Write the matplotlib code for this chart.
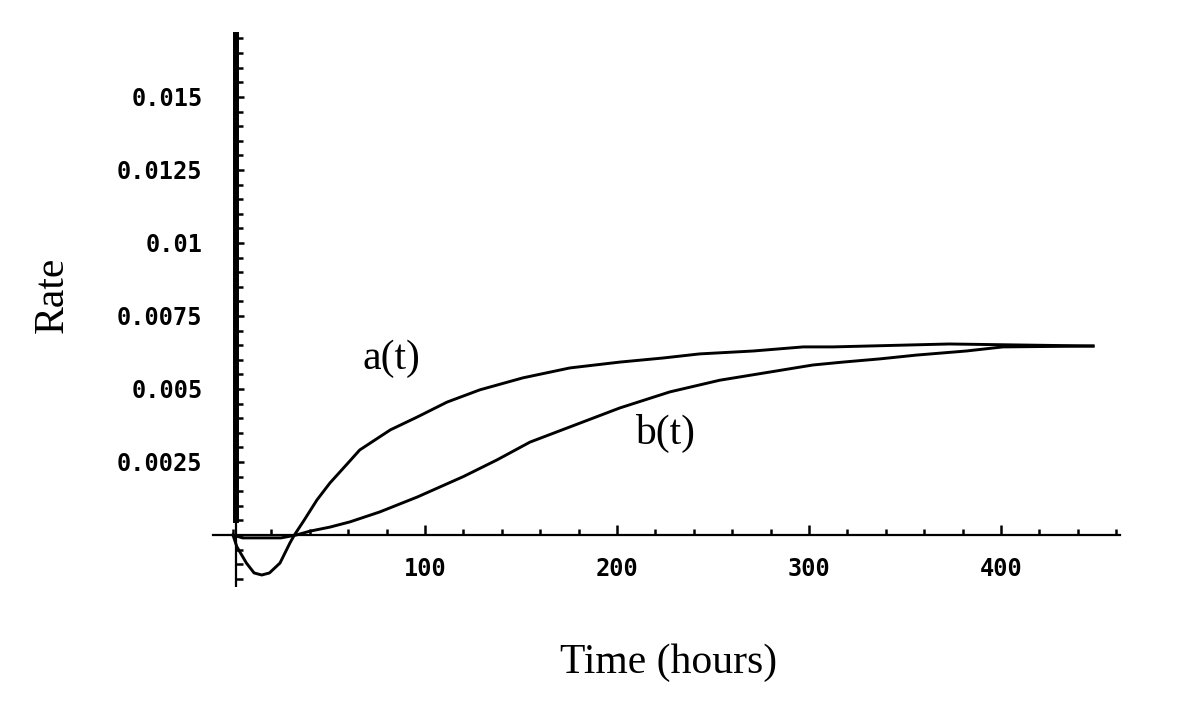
import matplotlib
matplotlib.use("Agg")
import matplotlib.pyplot as plt
from matplotlib.ticker import MultipleLocator, FixedLocator

# curve a(t)
a_t = [0, 2, 7, 11, 15, 19, 24.5, 29.7, 32, 37, 43.75, 50.5, 60, 66, 82, 96,
       111.5, 128.6, 151, 175.5, 201.5, 224, 243, 271, 297, 312.5, 373, 448]
a_val = [0, -0.0004, -0.00096, -0.0013, -0.00137, -0.0013, -0.00096, -0.00027,
         0, 0.0005, 0.0012, 0.00178, 0.00247, 0.00291, 0.0036, 0.00404,
         0.00455, 0.00497, 0.00538, 0.00572, 0.00592, 0.00606, 0.0062, 0.0063,
         0.00644, 0.00644, 0.00654, 0.00647]

# curve b(t)
b_t = [0, 5, 25, 33, 40, 50.5, 61, 76.5, 96, 120, 137.5, 154.7, 175.5, 201.5,
       227.6, 253.6, 279.7, 302, 317.7, 337, 356, 382, 401, 448]
b_val = [0, -0.0001, -0.0001, 0.0, 0.00013, 0.00027, 0.00045, 0.00079, 0.0013,
         0.002, 0.00257, 0.00318, 0.0037, 0.00435, 0.0049, 0.0053, 0.00558,
         0.00582, 0.00592, 0.00603, 0.00616, 0.0063, 0.00644, 0.00647]

x_ticks = [100, 200, 300, 400]
y_ticks = [0.0025, 0.005, 0.0075, 0.01, 0.0125, 0.015]
y_labels = ["0.0025", "0.005", "0.0075", "0.01", "0.0125", "0.015"]

fig = plt.figure(figsize=(12, 7.26), dpi=100)
ax = fig.add_axes([0.1775, 0.1915, 0.7558, 0.7603])

ax.plot(a_t, a_val, color="black", lw=2.1)
ax.plot(b_t, b_val, color="black", lw=2.1)

ax.set_xlim(-10.4, 462)
ax.set_ylim(-0.00178, 0.01712)

# mathematica style axes crossing at the origin
for side in ["top", "right"]:
    ax.spines[side].set_visible(False)
ax.spines["left"].set_position(("data", 1.5))
ax.spines["bottom"].set_position(("data", 0))
ax.spines["left"].set_linewidth(4.3)
ax.spines["left"].set_bounds(0.0005, 0.01712)
ax.spines["bottom"].set_linewidth(1.6)
ax.axvline(1.5, ymin=0, ymax=0.12, color="black", lw=1.6)

ax.xaxis.set_major_locator(FixedLocator(x_ticks))
ax.xaxis.set_minor_locator(MultipleLocator(20))
ax.set_xticklabels([str(v) for v in x_ticks])
ax.yaxis.set_major_locator(FixedLocator(y_ticks))
ax.yaxis.set_minor_locator(MultipleLocator(0.0005))
ax.set_yticklabels(y_labels)

for lab in ax.get_xticklabels() + ax.get_yticklabels():
    lab.set_fontfamily("DejaVu Sans Mono")
    lab.set_fontweight("bold")
    lab.set_fontsize(17)

ax.tick_params(axis="x", which="major", direction="in", length=7, width=1.8, pad=16)
ax.tick_params(axis="x", which="minor", direction="in", length=4, width=1.8)
ax.tick_params(axis="y", which="major", direction="in", length=6, width=1.8, pad=24)
ax.tick_params(axis="y", which="minor", direction="in", length=5, width=1.8)

serif = ["Liberation Serif", "DejaVu Serif"]
ax.text(82.8, 0.00603, "a(t)", family=serif, fontsize=30, ha="center", va="center")
ax.text(225, 0.00346, "b(t)", family=serif, fontsize=30, ha="center", va="center")

fig.text(669 / 1200, 1 - 663 / 726, "Time (hours)", family=serif, fontsize=30,
         ha="center", va="center")
fig.text(52 / 1200, 1 - 295 / 726, "Rate", family=serif, fontsize=30,
         ha="center", va="center", rotation=90)

fig.savefig("out.png", dpi=100)
